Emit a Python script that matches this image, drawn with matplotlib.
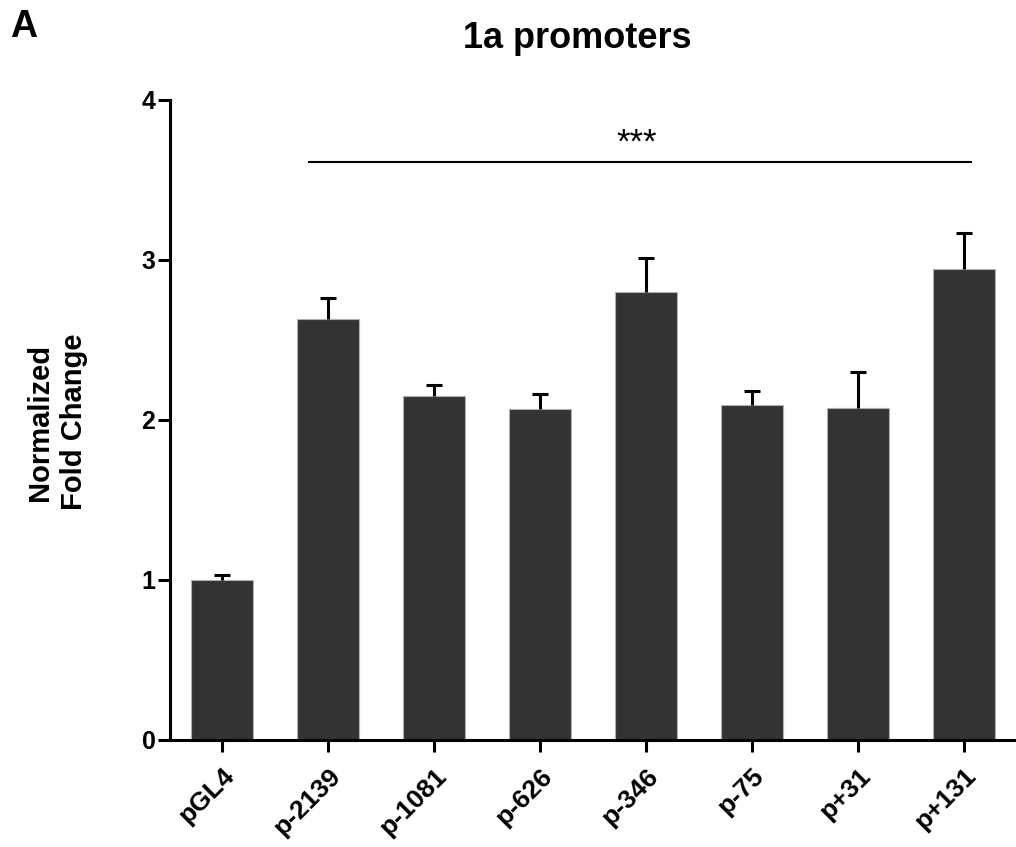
import matplotlib
matplotlib.use("Agg")
import matplotlib.pyplot as plt
from matplotlib.transforms import ScaledTranslation

plt.rcParams["font.family"] = ["Liberation Sans", "DejaVu Sans"]

# promoter constructs and normalized fold change (mean, upper SEM)
constructs = ["pGL4", "p-2139", "p-1081", "p-626", "p-346", "p-75", "p+31", "p+131"]
fold_change = [1.00, 2.63, 2.15, 2.07, 2.80, 2.09, 2.075, 2.94]
sem = [0.03, 0.13, 0.07, 0.09, 0.21, 0.09, 0.225, 0.23]

# significance bracket spanning p-2139 .. p+131
sig_start, sig_end, sig_y, sig_label = 0.82, 7.07, 3.61, "***"

W, H = 1016, 847
fig = plt.figure(figsize=(W / 100, H / 100), dpi=100)
ax = fig.add_axes([170 / W, 1 - 739.5 / H, (W - 170) / W, (739.5 - 100) / H])

x = list(range(len(constructs)))
ax.bar(x, fold_change, width=0.585, color="#333333", edgecolor="#b0b0b0",
       linewidth=0.8, zorder=2)
_, caps, _ = ax.errorbar(x, fold_change, yerr=[[0] * len(sem), sem], fmt="none",
                         ecolor="black", elinewidth=2.2, capsize=6,
                         capthick=2.2, zorder=3)
# only the upper cap is shown
caps[0].set_visible(False)

ax.plot([sig_start, sig_end], [sig_y, sig_y], color="black", lw=1.5,
        clip_on=False)
ax.text((sig_start + sig_end) / 2 - 0.03, sig_y + 0.02, sig_label,
        ha="center", va="bottom", fontsize=25)

ax.set_xlim(-0.49, 7.49)
ax.set_ylim(0, 4)
ax.set_yticks([0, 1, 2, 3, 4])
ax.set_xticks(x)
ax.set_xticklabels(constructs, rotation=45, ha="right", rotation_mode="anchor",
                   fontsize=19, fontweight="bold")
shift = ScaledTranslation(-0.04, 0, fig.dpi_scale_trans)
for lab in ax.get_xticklabels():
    lab.set_transform(lab.get_transform() + shift)
for lab in ax.get_yticklabels():
    lab.set_fontsize(18)
    lab.set_fontweight("bold")

for side in ["top", "right"]:
    ax.spines[side].set_visible(False)
for side in ["left", "bottom"]:
    ax.spines[side].set_linewidth(2.2)
ax.tick_params(axis="both", length=8.5, width=2.2, color="black")
ax.tick_params(axis="y", pad=2)
ax.tick_params(axis="x", pad=9)

fig.text(577 / W, 1 - 48 / H, "1a promoters", ha="center", va="baseline",
         fontsize=26, fontweight="bold")
fig.text(10 / W, 1 - 37 / H, "A", ha="left", va="baseline",
         fontsize=27, fontweight="bold")
fig.text(57 / W, 1 - 422 / H, "Normalized\nFold Change", rotation=90,
         ha="center", va="center", multialignment="center", linespacing=1.3,
         fontsize=21, fontweight="bold")

fig.savefig("out.png", dpi=100)
